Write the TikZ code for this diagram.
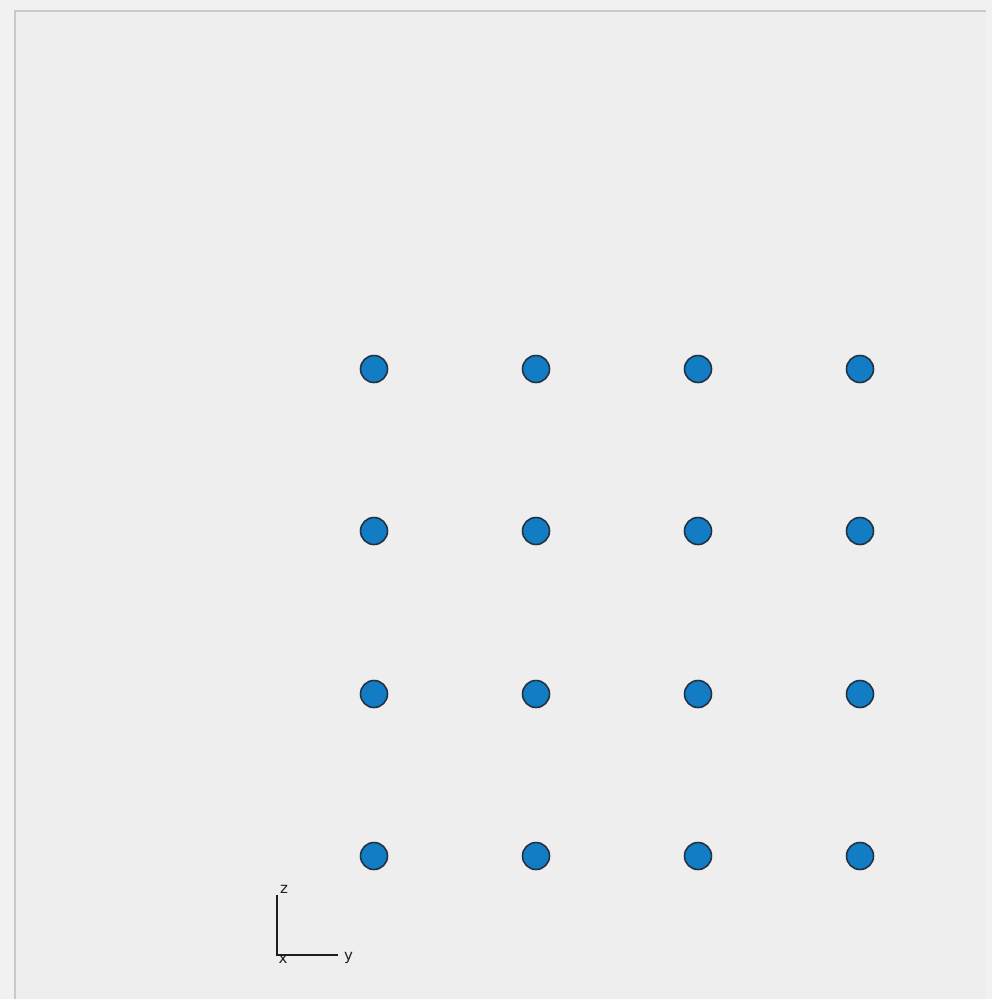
\documentclass[tikz,border=0pt]{standalone}
\usepackage{fontspec}
\setsansfont{DejaVu Sans}
\usepackage{tikz}
\definecolor{paneGray}{RGB}{238, 238, 238}
\definecolor{outerGray}{RGB}{241, 241, 241}
\definecolor{frameGray}{RGB}{200, 200, 200}
\definecolor{atomBlue}{RGB}{18, 124, 196}
\definecolor{atomEdge}{RGB}{35, 50, 65}
\definecolor{axisDark}{RGB}{30, 30, 30}
\tikzset{
  atom/.style={circle, fill=atomBlue, draw=atomEdge, line width=1.6pt, minimum size=27pt, inner sep=0pt},
  axlabel/.style={font=\sffamily\fontsize{15}{15}\selectfont, text=axisDark, inner sep=0pt}
}

\begin{document}
\begin{tikzpicture}[x=1pt, y=-1pt]
        \useasboundingbox (0,0) rectangle (992,999);
        % Background and frame
        \fill[outerGray] (0,0) rectangle (992,999);
        \fill[paneGray] (15,11) rectangle (986,999);
        \draw[frameGray, line width=1.8pt] (15,999) -- (15,11) -- (986,11);
        % Atoms
        \foreach \i/\x in {1/374, 2/536, 3/698, 4/860}
          \foreach \j/\y in {1/369, 2/531, 3/694, 4/856}
            \node[atom] (a\j\i) at (\x,\y) {};
        % Axes
        \coordinate (orig) at (277,955);
        \coordinate (ztip) at (277,895);
        \coordinate (ytip) at (338,955);
        \draw[axisDark, line width=1.4pt] (ztip) -- (orig) -- (ytip);
        \node[axlabel, anchor=south] (zlab) at (284,894) {z};
        \node[axlabel, anchor=center] (xlab) at (283,959) {x};
        \node[axlabel, anchor=west] (ylab) at (344,958) {y};
      \end{tikzpicture}
\end{document}
